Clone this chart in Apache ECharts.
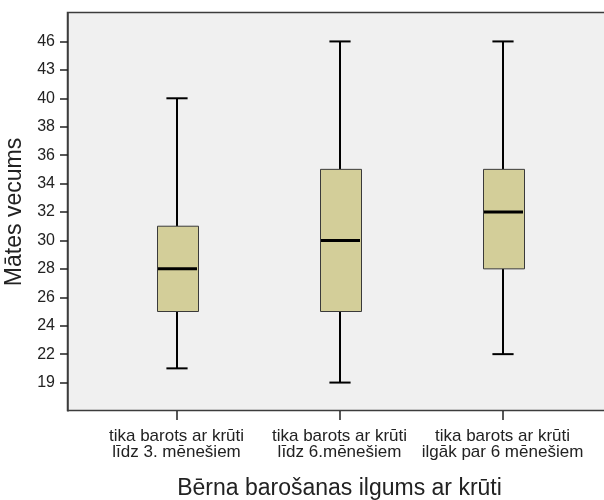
<!DOCTYPE html>
<html>
<head>
<meta charset="utf-8">
<script src="https://cdn.jsdelivr.net/npm/echarts@6/dist/echarts.min.js"></script>
<style>
  html, body { margin: 0; padding: 0; background: #fff; }
  #chart { width: 604px; height: 500px; }
</style>
</head>
<body>
<div id="chart"></div>
<script>
// Box plot data (Mātes vecums per group)
const categories = [
  'tika barots ar krūti\nlīdz 3. mēnešiem',
  'tika barots ar krūti\nlīdz 6.mēnešiem',
  'tika barots ar krūti\nilgāk par 6 mēnešiem'
]
const whiskerLow = [20.5, 19, 22]
const quartile1 = [25, 25, 28]
const medians = [28, 30, 32]
const quartile3 = [31, 35, 35]
const whiskerHigh = [40, 46, 46]

// The y axis is ordinal: these labels sit at equal steps
const tickLabels = [19, 22, 24, 26, 28, 30, 32, 34, 36, 38, 40, 43, 46]

const FONT = 'Arial, "Liberation Sans", sans-serif'

// map an age to its position on the evenly spaced ordinal axis
const toPos = (v) => {
  for (let i = 0; i < tickLabels.length - 1; i++) {
    const a = tickLabels[i], b = tickLabels[i + 1]
    if (v >= a && v <= b) return i + (v - a) / (b - a)
  }
  return v < tickLabels[0] ? 0 : tickLabels.length - 1
}

const boxData = categories.map((c, i) => [
  i,
  toPos(whiskerLow[i]),
  toPos(quartile1[i]),
  toPos(medians[i]),
  toPos(quartile3[i]),
  toPos(whiskerHigh[i])
])

const renderBox = (params, api) => {
  const idx = api.value(0)
  const band = api.size([1, 0])[0]
  const boxW = band * 0.25
  const capW = boxW * 0.52
  const pLow = api.coord([idx, api.value(1)])
  const pQ1 = api.coord([idx, api.value(2)])
  const pMed = api.coord([idx, api.value(3)])
  const pQ3 = api.coord([idx, api.value(4)])
  const pHigh = api.coord([idx, api.value(5)])
  const x = Math.round(pLow[0])
  const whisker = { stroke: '#000', lineWidth: 2 }
  return {
    type: 'group',
    children: [
      { type: 'line', shape: { x1: x, y1: pLow[1], x2: x, y2: pQ1[1] }, style: whisker },
      { type: 'line', shape: { x1: x, y1: pQ3[1], x2: x, y2: pHigh[1] }, style: whisker },
      { type: 'line', shape: { x1: x - capW / 2, y1: pLow[1], x2: x + capW / 2, y2: pLow[1] }, style: whisker },
      { type: 'line', shape: { x1: x - capW / 2, y1: pHigh[1], x2: x + capW / 2, y2: pHigh[1] }, style: whisker },
      {
        type: 'rect',
        shape: { x: Math.round(x - boxW / 2) + 0.5, y: pQ3[1], width: Math.round(boxW), height: pQ1[1] - pQ3[1] },
        style: { fill: '#d3ce99', stroke: '#3a3a3a', lineWidth: 1 }
      },
      {
        type: 'line',
        shape: { x1: Math.round(x - boxW / 2) + 1, y1: pMed[1], x2: Math.round(x + boxW / 2), y2: pMed[1] },
        style: { stroke: '#000', lineWidth: 3 }
      }
    ]
  }
}

const chart = echarts.init(document.getElementById('chart'))

chart.setOption({
  animation: false,
  textStyle: { fontFamily: FONT },
  graphic: [
    {
      type: 'rect',
      z: -10,
      silent: true,
      shape: { x: 67.5, y: 12.5, width: 620, height: 398 },
      style: { fill: '#f0f0f0', stroke: '#3c3c3c', lineWidth: 1.5 }
    }
  ],
  grid: { left: 95, right: 20, top: 13, bottom: 89, containLabel: false, outerBoundsMode: 'none' },
  xAxis: {
    type: 'category',
    data: categories,
    name: 'Bērna barošanas ilgums ar krūti',
    nameLocation: 'middle',
    nameGap: 66,
    nameTextStyle: { fontSize: 23, color: '#222', fontFamily: FONT },
    axisLine: { show: false, onZero: false },
    axisTick: { show: true, alignWithLabel: true, length: 9, lineStyle: { color: '#222', width: 1.5 } },
    axisLabel: { fontSize: 17, color: '#222', lineHeight: 16, margin: 17, interval: 0, fontFamily: FONT },
    splitLine: { show: false }
  },
  yAxis: {
    type: 'value',
    min: -1,
    max: 13,
    interval: 1,
    offset: 27,
    name: 'Mātes vecums',
    nameLocation: 'middle',
    nameGap: 36,
    nameRotate: 90,
    nameTextStyle: { fontSize: 23, color: '#222', fontFamily: FONT },
    axisLine: { show: true, lineStyle: { color: '#3c3c3c', width: 1.5 } },
    axisTick: {
      show: true,
      length: 8,
      customValues: tickLabels.map((t, i) => i),
      lineStyle: { color: '#222', width: 1.5 }
    },
    axisLabel: {
      fontSize: 16,
      color: '#222',
      margin: 13,
      fontFamily: FONT,
      customValues: tickLabels.map((t, i) => i),
      formatter: (v) => (tickLabels[v] !== undefined ? String(tickLabels[v]) : '')
    },
    splitLine: { show: false }
  },
  series: [
    {
      type: 'custom',
      renderItem: renderBox,
      data: boxData,
      encode: { x: 0, y: [1, 2, 3, 4, 5] },
      z: 5
    }
  ]
})
</script>
</body>
</html>
